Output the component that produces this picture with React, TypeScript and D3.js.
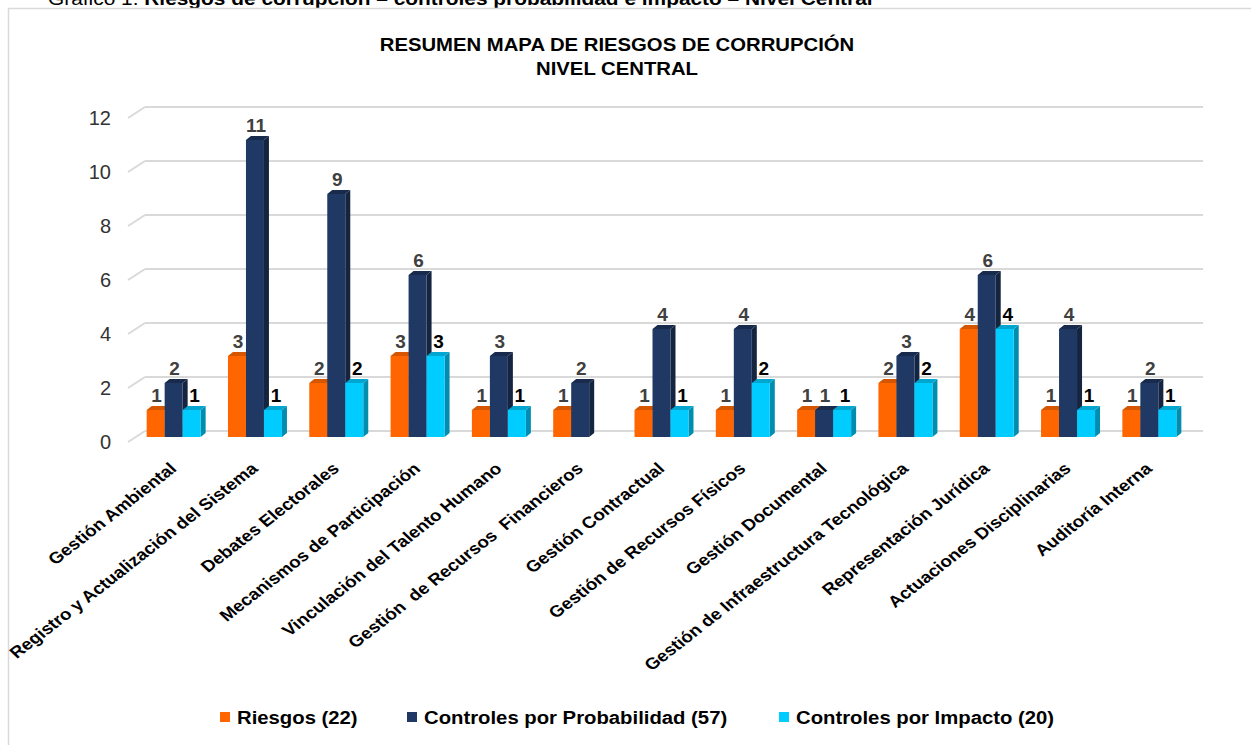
import React from 'react';
import * as d3 from 'd3';

// categories (procesos) and the three series
const categories = [
  'Gestión Ambiental',
  'Registro y Actualización del Sistema',
  'Debates Electorales',
  'Mecanismos de Participación',
  'Vinculación del Talento Humano',
  'Gestión  de Recursos  Financieros',
  'Gestión Contractual',
  'Gestión de Recursos Físicos',
  'Gestión Documental',
  'Gestión de Infraestructura Tecnológica',
  'Representación Jurídica',
  'Actuaciones Disciplinarias',
  'Auditoría Interna',
];
const riesgos = [1, 3, 2, 3, 1, 1, 1, 1, 1, 2, 4, 1, 1];
const controlesProbabilidad = [2, 11, 9, 6, 3, 2, 4, 4, 1, 3, 6, 4, 2];
const controlesImpacto = [1, 1, 2, 3, 1, 0, 1, 2, 1, 2, 4, 1, 1];
const seriesNames = ['Riesgos', 'Controles por Probabilidad', 'Controles por Impacto'];
const yTicks = [0, 2, 4, 6, 8, 10, 12];

const seriesValues = [riesgos, controlesProbabilidad, controlesImpacto];

// face colours per series: front, top, side, label
const palette = [
  { front: '#FF6600', top: '#D65600', side: '#C04D00', label: '#404040' },
  { front: '#203864', top: '#182B4D', side: '#15243F', label: '#404040' },
  { front: '#00CCFF', top: '#00A6D0', side: '#008DAF', label: '#000000' },
];

const W = 1251;
const H = 745;
const DX = 5; // bar depth
const DY = -4;
const SX = 1.16; // text in the source is slightly wide

export default function App() {
  const x0 = d3
    .scaleBand<string>()
    .domain(categories)
    .range([133, 1190])
    .paddingInner(0.336)
    .paddingOuter(0.168);

  const x1 = d3
    .scaleBand<string>()
    .domain(seriesNames)
    .range([0, x0.bandwidth()]);

  const y = d3.scaleLinear().domain([0, 12]).range([437, 113]);
  const base = y(0);

  const font = 'Arial, "Liberation Sans", sans-serif';

  const legendX = [220, 407, 779];

  return (
    <div style={{ position: 'absolute', left: 0, top: 0 }}>
      <svg width={W} height={H} style={{ display: 'block', background: '#fff', fontFamily: font }}>
        {/* caption above the box, cut at the top */}
        <text fontSize={18} fill="#000" transform={`translate(48,5) scale(${SX},1)`}>
          Gráfico 1.{' '}
          <tspan fontWeight="bold">Riesgos de corrupción – controles probabilidad e impacto – Nivel Central</tspan>
        </text>

        <rect x={8.5} y={8.5} width={1300} height={800} fill="#fff" stroke="#d9d9d9" strokeWidth={1.5} />

        {/* title */}
        <g fontWeight="bold" fontSize={17.5} fill="#000" textAnchor="middle">
          <text transform={`translate(617,51) scale(${SX},1)`}>RESUMEN MAPA DE RIESGOS DE CORRUPCIÓN</text>
          <text transform={`translate(617,75) scale(${SX},1)`}>NIVEL CENTRAL</text>
        </g>

        {/* gridlines on back wall + side wall diagonals */}
        <g stroke="#d9d9d9" strokeWidth={2} fill="none">
          {yTicks.map((t) => (
            <g key={t}>
              <line x1={145} x2={1203} y1={y(t) - 6} y2={y(t) - 6} />
              <line x1={128} x2={145} y1={y(t) + 5} y2={y(t) - 6} />
            </g>
          ))}
        </g>

        {/* y tick labels */}
        <g fontSize={20} fill="#333" textAnchor="end">
          {yTicks.map((t) => (
            <text key={t} x={111} y={y(t) + 12}>
              {t}
            </text>
          ))}
        </g>

        {/* 3D bars */}
        {categories.map((c, i) => (
          <g key={c} transform={`translate(${x0(c)},0)`}>
            {seriesNames.map((s, k) => {
              const v = seriesValues[k][i];
              if (!v) return null;
              const bx = x1(s) || 0;
              const bw = x1.bandwidth();
              const ty = y(v);
              const col = palette[k];
              return (
                <g key={s}>
                  <polygon
                    points={`${bx + bw},${ty} ${bx + bw + DX},${ty + DY} ${bx + bw + DX},${base + DY} ${bx + bw},${base}`}
                    fill={col.side}
                  />
                  <polygon
                    points={`${bx},${ty} ${bx + DX},${ty + DY} ${bx + bw + DX},${ty + DY} ${bx + bw},${ty}`}
                    fill={col.top}
                  />
                  <rect x={bx} y={ty} width={bw} height={base - ty} fill={col.front} />
                </g>
              );
            })}
          </g>
        ))}

        {/* value labels */}
        <g fontSize={19} fontWeight="bold" textAnchor="middle">
          {categories.map((c, i) =>
            seriesNames.map((s, k) => {
              const v = seriesValues[k][i];
              if (!v) return null;
              const cx = (x0(c) || 0) + (x1(s) || 0) + x1.bandwidth() / 2 + (k === 2 ? 3 : 1);
              return (
                <text key={`${c}-${s}`} x={cx} y={y(v) - 8} fill={palette[k].label}>
                  {v}
                </text>
              );
            })
          )}
        </g>

        {/* category labels */}
        <g fontSize={16.2} fontWeight="bold" fill="#000" textAnchor="end">
          {categories.map((c) => {
            const ax = (x0(c) || 0) + x0.bandwidth() / 2 + 4;
            return (
              <text key={c} transform={`translate(${ax},470) scale(${SX},1) rotate(-42.2)`} style={{ whiteSpace: 'pre' }}>
                {c}
              </text>
            );
          })}
        </g>

        {/* legend */}
        <g fontSize={17.5} fontWeight="bold" fill="#000">
          {seriesNames.map((s, k) => (
            <g key={s}>
              <rect x={legendX[k]} y={712} width={10} height={10} fill={palette[k].front} />
              <text transform={`translate(${legendX[k] + 17},724) scale(${SX},1)`}>
                {`${s} (${d3.sum(seriesValues[k])})`}
              </text>
            </g>
          ))}
        </g>
      </svg>
    </div>
  );
}
